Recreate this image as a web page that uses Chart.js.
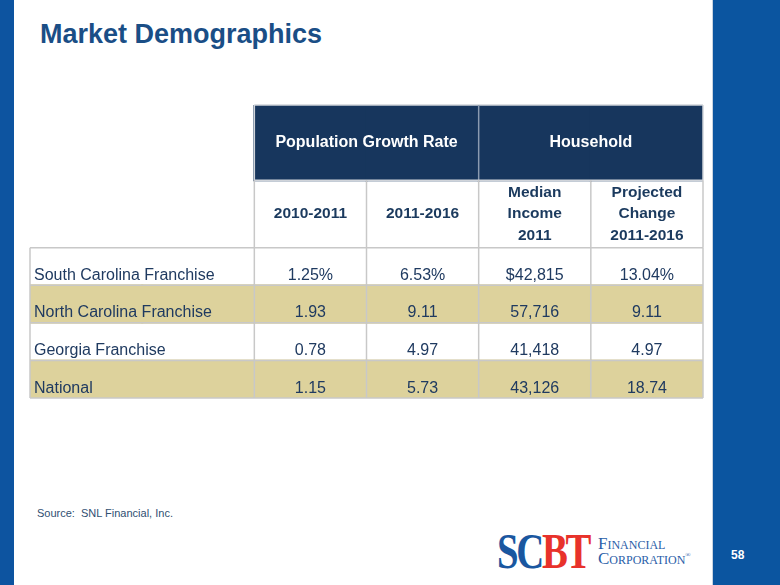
<!DOCTYPE html>
<html>
<head>
<meta charset="utf-8">
<script src="https://cdn.jsdelivr.net/npm/chart.js@4"></script>
<style>
  html, body { margin: 0; padding: 0; background: #fff; }
  body { width: 780px; height: 585px; position: relative; overflow: hidden; font-family: Arial, "Liberation Sans", sans-serif; }
  .strip-left { position: absolute; left: 0; top: 0; width: 14px; height: 585px; background: #0d54a0; }
  .band-right { position: absolute; left: 712px; top: 0; width: 68px; height: 585px; background: #0b55a0; border-left: 1px solid #c9d3e0; }
  .title { position: absolute; left: 40px; top: 21px; font-size: 27px; line-height: 1; font-weight: bold; color: #1a4e86; }
  .source { position: absolute; left: 37px; top: 508px; font-size: 11px; line-height: 1; color: #2f4f72; }
  .page { position: absolute; left: 731px; top: 549px; font-size: 12px; line-height: 1; font-weight: bold; color: #fff; }
  #tableWrap { position: absolute; left: 29px; top: 104px; width: 675px; height: 295px; }
  .logo { position: absolute; left: 497px; top: 528px; height: 46px; }
  .logo .mark { position: absolute; left: 0; top: 0; font-family: "Liberation Serif", "DejaVu Serif", serif; font-weight: bold; font-size: 50px; line-height: 46px; transform: scaleX(0.775); transform-origin: left; letter-spacing: -3px; white-space: nowrap; }
  .logo .sc { color: #1a57a0; }
  .logo .bt { color: #e8322b; }
  .logo .name { position: absolute; left: 101px; font-family: "Liberation Serif", "DejaVu Serif", serif; font-variant: small-caps; color: #2a5ea8; font-size: 17px; line-height: 1; white-space: nowrap; }
</style>
</head>
<body>
<div class="strip-left"></div>
<div class="band-right"></div>
<div class="title">Market Demographics</div>

<div id="tableWrap"><canvas id="demoTable" width="675" height="295"></canvas></div>

<div class="source">Source:&nbsp; SNL Financial, Inc.</div>
<div class="logo">
  <div class="mark"><span class="sc">SC</span><span class="bt">BT</span></div>
  <div class="name" style="top:7px;">Financial</div>
  <div class="name" style="top:22px;">Corporation<sup style="font-size:7px">®</sup></div>
</div>
<div class="page">58</div>

<script>
// Table content
const groupHeaders = ['Population Growth Rate', 'Household'];
const columnHeaders = [['2010-2011'], ['2011-2016'], ['Median', 'Income', '2011'], ['Projected', 'Change', '2011-2016']];
const rowLabels = ['South Carolina Franchise', 'North Carolina Franchise', 'Georgia Franchise', 'National'];
const growth2010_2011 = [1.25, 1.93, 0.78, 1.15];
const growth2011_2016 = [6.53, 9.11, 4.97, 5.73];
const medianIncome2011 = [42815, 57716, 41418, 43126];
const projectedChange = [13.04, 9.11, 4.97, 18.74];

// first row carries the units
function fmtPct(v, i) { return v.toFixed(2) + (i === 0 ? '%' : ''); }
function fmtMoney(v, i) { return (i === 0 ? '$' : '') + v.toLocaleString('en-US'); }
const columns = [
    growth2010_2011.map(fmtPct),
    growth2011_2016.map(fmtPct),
    medianIncome2011.map(fmtMoney),
    projectedChange.map(fmtPct)
];

// row layout in y units (one data row = 1)
const HEAD1 = [0, 2];
const HEAD2 = [2, 3.8];
const DATA0 = 3.8;
const NSLOTS = 6; // label column spans 2 slots

const slotLabels = ['Franchise', 'Franchise ', ...columnHeaders.map(c => c.join(' '))];

const headerBand = slotLabels.map((_, i) => i >= 2 ? HEAD1 : null);
const stripeSets = rowLabels.map((_, r) => r).filter(r => r % 2 === 1).map(r => ({
    data: slotLabels.map(() => [DATA0 + r, DATA0 + r + 1]),
    backgroundColor: '#ddd29c'
}));

const GRID = '#c8c8c8';
const TEXT = '#1f3a60';

const tablePlugin = {
    id: 'tablePlugin',
    afterDatasetsDraw(chart) {
        const ctx = chart.ctx;
        const xs = chart.scales.x, ys = chart.scales.y;
        const w = xs.width / NSLOTS;
        const X = i => xs.left + i * w;
        const Y = v => ys.getPixelForValue(v);

        ctx.save();
        ctx.lineWidth = 1.5;
        function hline(y, x0, x1, c) { ctx.strokeStyle = c || GRID; ctx.beginPath(); ctx.moveTo(X(x0), Y(y)); ctx.lineTo(X(x1), Y(y)); ctx.stroke(); }
        function vline(x, y0, y1, c) { ctx.strokeStyle = c || GRID; ctx.beginPath(); ctx.moveTo(X(x), Y(y0)); ctx.lineTo(X(x), Y(y1)); ctx.stroke(); }

        // header 1 outline
        hline(HEAD1[0], 2, 6, '#d0d4da');
        vline(2, HEAD1[0], HEAD1[1], '#d0d4da');
        vline(6, HEAD1[0], HEAD1[1], '#d0d4da');
        vline(4, HEAD1[0], HEAD1[1], '#8b9bb0');
        hline(HEAD1[1], 2, 6, '#d0d4da');
        // header 2
        [2, 3, 4, 5, 6].forEach(s => vline(s, HEAD2[0], HEAD2[1]));
        // data rows
        const yEnd = DATA0 + rowLabels.length;
        for (let r = 0; r <= rowLabels.length; r++) hline(DATA0 + r, 0, 6);
        [0, 2, 3, 4, 5, 6].forEach(s => vline(s, DATA0, yEnd));

        // header texts
        ctx.textAlign = 'center';
        ctx.textBaseline = 'middle';
        ctx.fillStyle = '#ffffff';
        ctx.font = 'bold 16px Arial, "Liberation Sans", sans-serif';
        ctx.fillText(groupHeaders[0], (X(2) + X(4)) / 2, Y((HEAD1[0] + HEAD1[1]) / 2));
        ctx.fillText(groupHeaders[1], (X(4) + X(6)) / 2, Y((HEAD1[0] + HEAD1[1]) / 2));

        ctx.fillStyle = '#1b3a5e';
        ctx.font = 'bold 15.5px Arial, "Liberation Sans", sans-serif';
        const lh = 21.5;
        columnHeaders.forEach((lines, c) => {
            const cx = (X(2 + c) + X(3 + c)) / 2;
            const cy = Y((HEAD2[0] + HEAD2[1]) / 2);
            lines.forEach((t, k) => ctx.fillText(t, cx, cy + (k - (lines.length - 1) / 2) * lh));
        });

        // body texts
        ctx.fillStyle = TEXT;
        ctx.font = '16px Arial, "Liberation Sans", sans-serif';
        ctx.textBaseline = 'alphabetic';
        rowLabels.forEach((label, r) => {
            const by = Y(DATA0 + r + 1) - 5.5;
            ctx.textAlign = 'left';
            ctx.fillText(label, X(0) + 4, by);
            ctx.textAlign = 'center';
            columns.forEach((col, c) => ctx.fillText(col[r], (X(2 + c) + X(3 + c)) / 2, by));
        });
        ctx.restore();
    }
};

new Chart(document.getElementById('demoTable'), {
    type: 'bar',
    data: {
        labels: slotLabels,
        datasets: [
            { data: headerBand, backgroundColor: '#17365d' },
            ...stripeSets
        ]
    },
    options: {
        responsive: false,
        animation: false,
        layout: { padding: 1 },
        datasets: {
            bar: {
                grouped: false,
                barPercentage: 1,
                categoryPercentage: 1,
                borderWidth: 0,
                borderSkipped: false,
                inflateAmount: 1
            }
        },
        plugins: {
            legend: { display: false },
            tooltip: { enabled: false }
        },
        scales: {
            x: { display: false },
            y: { display: false, min: 0, max: DATA0 + rowLabels.length, reverse: true }
        }
    },
    plugins: [tablePlugin]
});
</script>
</body>
</html>
